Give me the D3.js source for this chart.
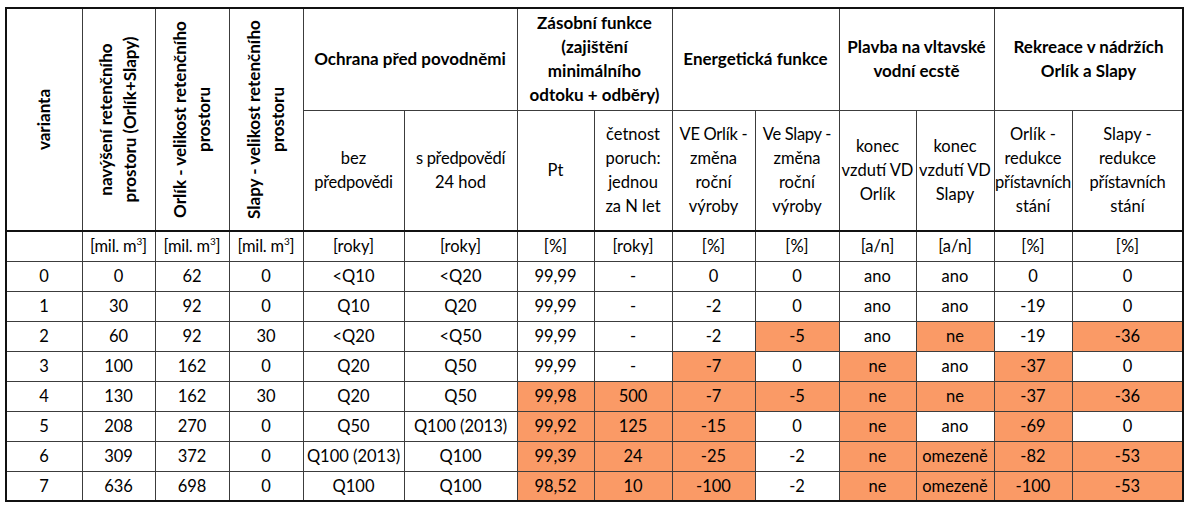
<!DOCTYPE html>
<html>
<head>
<meta charset="utf-8">
<script src="https://cdn.jsdelivr.net/npm/d3@7.9.0/dist/d3.min.js"></script>
<style>
  html, body { margin: 0; padding: 0; background: #fff; }
  svg { display: block; }
  text { font-family: Lato, "Noto Sans", sans-serif; fill: #000; }
</style>
</head>
<body>
<svg width="1188" height="509"></svg>
<script>
// --- data -------------------------------------------------------------------
const variants = [0, 1, 2, 3, 4, 5, 6, 7];
const navyseni = [0, 30, 60, 100, 130, 208, 309, 636];
const orlikVolume = [62, 92, 92, 162, 162, 270, 372, 698];
const slapyVolume = [0, 0, 30, 0, 30, 0, 0, 0];
const bezPredpovedi = ['<Q10', 'Q10', '<Q20', 'Q20', 'Q20', 'Q50', 'Q100 (2013)', 'Q100'];
const sPredpovedi = ['<Q20', 'Q20', '<Q50', 'Q50', 'Q50', 'Q100 (2013)', 'Q100', 'Q100'];
const pt = ['99,99', '99,99', '99,99', '99,99', '99,98', '99,92', '99,39', '98,52'];
const cetnost = ['-', '-', '-', '-', '500', '125', '24', '10'];
const veOrlik = [0, -2, -2, -7, -7, -15, -25, -100];
const veSlapy = [0, 0, -5, 0, -5, 0, -2, -2];
const konecOrlik = ['ano', 'ano', 'ano', 'ne', 'ne', 'ne', 'ne', 'ne'];
const konecSlapy = ['ano', 'ano', 'ne', 'ano', 'ne', 'ano', 'omezeně', 'omezeně'];
const redukceOrlik = [0, -19, -19, -37, -37, -69, -82, -100];
const redukceSlapy = [0, 0, -36, 0, -36, 0, -53, -53];

// rows marked in orange, per column
const markPt = [4, 5, 6, 7];
const markCetnost = [4, 5, 6, 7];
const markVeOrlik = [3, 4, 5, 6, 7];
const markVeSlapy = [2, 4];
const markKonecOrlik = [3, 4, 5, 6, 7];
const markKonecSlapy = [2, 4, 6, 7];
const markRedOrlik = [3, 4, 5, 6, 7];
const markRedSlapy = [2, 4, 6, 7];

const groupTitles = [
  ['Ochrana před povodněmi'],
  ['Zásobní funkce', '(zajištění', 'minimálního', 'odtoku + odběry)'],
  ['Energetická funkce'],
  ['Plavba na vltavské', 'vodní ecstě'],
  ['Rekreace v nádržích', 'Orlík a Slapy'],
];
const groupSpans = [[4, 5], [6, 7], [8, 9], [10, 11], [12, 13]];

const columns = [
  { head: ['varianta'], unit: '', values: variants, mark: [] },
  { head: ['navýšení retenčního', 'prostoru (Orlík+Slapy)'], unit: 'm3', values: navyseni, mark: [] },
  { head: ['Orlík - velikost retenčního', 'prostoru'], unit: 'm3', values: orlikVolume, mark: [] },
  { head: ['Slapy - velikost retenčního', 'prostoru'], unit: 'm3', values: slapyVolume, mark: [] },
  { head: ['bez', 'předpovědi'], unit: '[roky]', values: bezPredpovedi, mark: [] },
  { head: ['s předpovědí', '24 hod'], unit: '[roky]', values: sPredpovedi, mark: [] },
  { head: ['Pt'], unit: '[%]', values: pt, mark: markPt },
  { head: ['četnost', 'poruch:', 'jednou', 'za N let'], unit: '[roky]', values: cetnost, mark: markCetnost },
  { head: ['VE Orlík -', 'změna', 'roční', 'výroby'], unit: '[%]', values: veOrlik, mark: markVeOrlik },
  { head: ['Ve Slapy -', 'změna', 'roční', 'výroby'], unit: '[%]', values: veSlapy, mark: markVeSlapy },
  { head: ['konec', 'vzdutí VD', 'Orlík'], unit: '[a/n]', values: konecOrlik, mark: markKonecOrlik },
  { head: ['konec', 'vzdutí VD', 'Slapy'], unit: '[a/n]', values: konecSlapy, mark: markKonecSlapy },
  { head: ['Orlík -', 'redukce', 'přístavních', 'stání'], unit: '[%]', values: redukceOrlik, mark: markRedOrlik },
  { head: ['Slapy -', 'redukce', 'přístavních', 'stání'], unit: '[%]', values: redukceSlapy, mark: markRedSlapy },
];

// --- layout -----------------------------------------------------------------
const edges = [6, 82, 155, 229, 303, 404, 517, 594, 672, 755, 839, 916, 994, 1072, 1183];
const tableTop = 8, groupBottom = 110, headBottom = 231, unitBottom = 261, tableBottom = 501;
const lh = 24;
const fs = 16.5, fsBold = 17;
const fill = '#fa9a66';

const colIdx = d3.range(columns.length);
const xLeft = d3.scaleOrdinal(colIdx, edges.slice(0, -1));
const xRight = d3.scaleOrdinal(colIdx, edges.slice(1));
const xMid = i => (xLeft(i) + xRight(i)) / 2;
const y = d3.scaleBand().domain(variants).range([unitBottom, tableBottom]);

const svg = d3.select('svg');

function lines(parent, txt, cx, cy, bold) {
  const t = parent.append('text')
    .attr('text-anchor', 'middle')
    .attr('font-size', bold ? fsBold : fs)
    .attr('font-weight', bold ? 700 : 400);
  txt.forEach((s, k) => {
    t.append('tspan')
      .attr('x', cx)
      .attr('y', cy + (k - (txt.length - 1) / 2) * lh)
      .attr('dy', '0.35em')
      .attr('letter-spacing', s.length > 9 && !bold ? -0.3 : null)
      .text(s);
  });
  return t;
}

// orange cells
columns.forEach((c, i) => {
  svg.selectAll(null)
    .data(c.mark)
    .join('rect')
    .attr('x', xLeft(i))
    .attr('y', r => y(r))
    .attr('width', xRight(i) - xLeft(i))
    .attr('height', y.bandwidth())
    .attr('fill', fill);
});

// grid
const grid = svg.append('g').attr('stroke', '#3c3c3c').attr('stroke-width', 1);
const hl = (x1, x2, yy) => grid.append('line').attr('x1', x1).attr('x2', x2)
  .attr('y1', yy + 0.5).attr('y2', yy + 0.5);
const vl = (xx, y1, y2) => grid.append('line').attr('x1', xx + 0.5).attr('x2', xx + 0.5)
  .attr('y1', y1).attr('y2', y2);

const groupEdges = new Set([0, 1, 2, 3, 4, 6, 8, 10, 12].map(i => xLeft(i)));
edges.slice(1, -1).forEach(e => vl(e, groupEdges.has(e) ? tableTop : groupBottom, tableBottom));
hl(edges[4], edges[14], groupBottom);
hl(edges[0], edges[14], unitBottom);
variants.slice(1).forEach(v => hl(edges[0], edges[14], y(v)));

svg.append('line')
  .attr('x1', edges[0]).attr('x2', edges[14])
  .attr('y1', headBottom).attr('y2', headBottom)
  .attr('stroke', '#111').attr('stroke-width', 2);
svg.append('rect')
  .attr('x', edges[0]).attr('y', tableTop)
  .attr('width', edges[14] - edges[0]).attr('height', tableBottom - tableTop)
  .attr('fill', 'none').attr('stroke', '#111').attr('stroke-width', 2);

// group headers
groupTitles.forEach((g, k) => {
  const [a, b] = groupSpans[k];
  lines(svg, g, (xLeft(a) + xRight(b)) / 2, (tableTop + groupBottom) / 2, true);
});

// column headers
columns.forEach((c, i) => {
  if (i < 4) {
    const g = svg.append('g')
      .attr('transform', `translate(${xMid(i)},${(tableTop + headBottom) / 2}) rotate(-90)`);
    lines(g, c.head, 0, 0, true);
  } else {
    lines(svg, c.head, xMid(i), (groupBottom + headBottom) / 2, false);
  }
});

// units
columns.forEach((c, i) => {
  const cy = (headBottom + unitBottom) / 2;
  if (c.unit === 'm3') {
    const t = svg.append('text')
      .attr('x', xMid(i)).attr('y', cy).attr('dy', '0.35em')
      .attr('text-anchor', 'middle').attr('font-size', fs)
      .attr('letter-spacing', -0.2);
    t.append('tspan').text('[mil. m');
    t.append('tspan').attr('font-size', 10).attr('dy', -7).text('3');
    t.append('tspan').attr('dy', 7).text(']');
  } else if (c.unit) {
    lines(svg, [c.unit], xMid(i), cy, false);
  }
});

// values
columns.forEach((c, i) => {
  svg.selectAll(null)
    .data(c.values)
    .join('text')
    .attr('x', xMid(i))
    .attr('y', (d, r) => y(variants[r]) + y.bandwidth() / 2)
    .attr('dy', '0.35em')
    .attr('text-anchor', 'middle')
    .attr('font-size', fs)
    .text(d => d);
});
</script>
</body>
</html>
